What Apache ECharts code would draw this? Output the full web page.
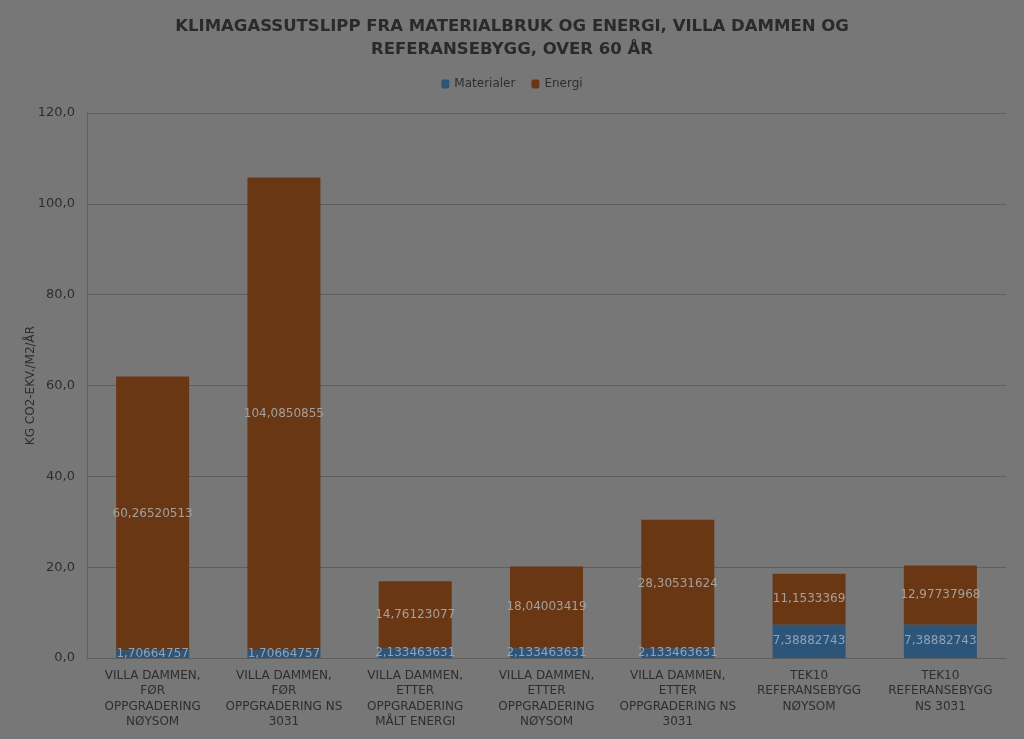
<!DOCTYPE html>
<html><head><meta charset="utf-8">
<script src="https://cdn.jsdelivr.net/npm/echarts@6/dist/echarts.min.js"></script>
<style>html,body{margin:0;padding:0;background:#777777;}#c{width:1024px;height:739px;}</style>
</head><body><div id="c"></div>
<script>
const categories = [
  "VILLA DAMMEN,\nFØR\nOPPGRADERING\nNØYSOM",
  "VILLA DAMMEN,\nFØR\nOPPGRADERING NS\n3031",
  "VILLA DAMMEN,\nETTER\nOPPGRADERING\nMÅLT ENERGI",
  "VILLA DAMMEN,\nETTER\nOPPGRADERING\nNØYSOM",
  "VILLA DAMMEN,\nETTER\nOPPGRADERING NS\n3031",
  "TEK10\nREFERANSEBYGG\nNØYSOM",
  "TEK10\nREFERANSEBYGG\nNS 3031"
];
const materialer = [1.70664757, 1.70664757, 2.133463631, 2.133463631, 2.133463631, 7.38882743, 7.38882743];
const energi = [60.26520513, 104.0850855, 14.76123077, 18.04003419, 28.30531624, 11.1533369, 12.97737968];
const titleText = "KLIMAGASSUTSLIPP FRA MATERIALBRUK OG ENERGI, VILLA DAMMEN OG\nREFERANSEBYGG, OVER 60 ÅR";
const yAxisName = "KG CO2-EKV./M2/ÅR";

const fmt = p => String(p.value).replace('.', ',');
const chart = echarts.init(document.getElementById('c'));
chart.setOption({
  backgroundColor: '#777777',
  animation: false,
  title: {
    text: titleText, left: 'center', top: 10,
    textStyle: { fontFamily: 'DejaVu Sans', fontWeight: 'bold', fontSize: 16.5, color: '#2a2a2a', lineHeight: 23 }
  },
  legend: {
    top: 73, left: 'center', itemWidth: 8, itemHeight: 9, itemGap: 16,
    textStyle: { fontFamily: 'DejaVu Sans', fontSize: 12, color: '#2e2e2e' },
    data: ['Materialer', 'Energi']
  },
  grid: { left: 87, right: 18, top: 113, bottom: 81 },
  xAxis: {
    type: 'category', data: categories,
    axisLine: { lineStyle: { color: '#5e5e5e' } },
    axisTick: { show: false },
    axisLabel: { interval: 0, fontFamily: 'DejaVu Sans', fontSize: 12, color: '#2e2e2e', lineHeight: 15.5, margin: 10 }
  },
  yAxis: {
    type: 'value', min: 0, max: 120, interval: 20,
    name: yAxisName, nameLocation: 'middle', nameGap: 50, nameRotate: 90, nameMoveOverlap: false,
    nameTextStyle: { fontFamily: 'DejaVu Sans', fontSize: 12, color: '#2e2e2e' },
    axisLine: { show: true, lineStyle: { color: '#5e5e5e' } },
    axisTick: { show: false },
    axisLabel: { formatter: v => v.toFixed(1).replace('.', ','), fontFamily: 'DejaVu Sans', fontSize: 13, color: '#2e2e2e', margin: 12 },
    splitLine: { lineStyle: { color: '#5e5e5e' } }
  },
  series: [
    { name: 'Materialer', type: 'bar', stack: 's', data: materialer, barWidth: 73,
      itemStyle: { color: '#2d5479' },
      label: { show: true, position: 'inside', formatter: fmt, fontFamily: 'DejaVu Sans', fontSize: 12, color: '#8fa3b8' } },
    { name: 'Energi', type: 'bar', stack: 's', data: energi, barWidth: 73,
      itemStyle: { color: '#6a3714' },
      label: { show: true, position: 'inside', formatter: fmt, fontFamily: 'DejaVu Sans', fontSize: 12, color: '#a5a09c' } }
  ]
});
</script></body></html>
